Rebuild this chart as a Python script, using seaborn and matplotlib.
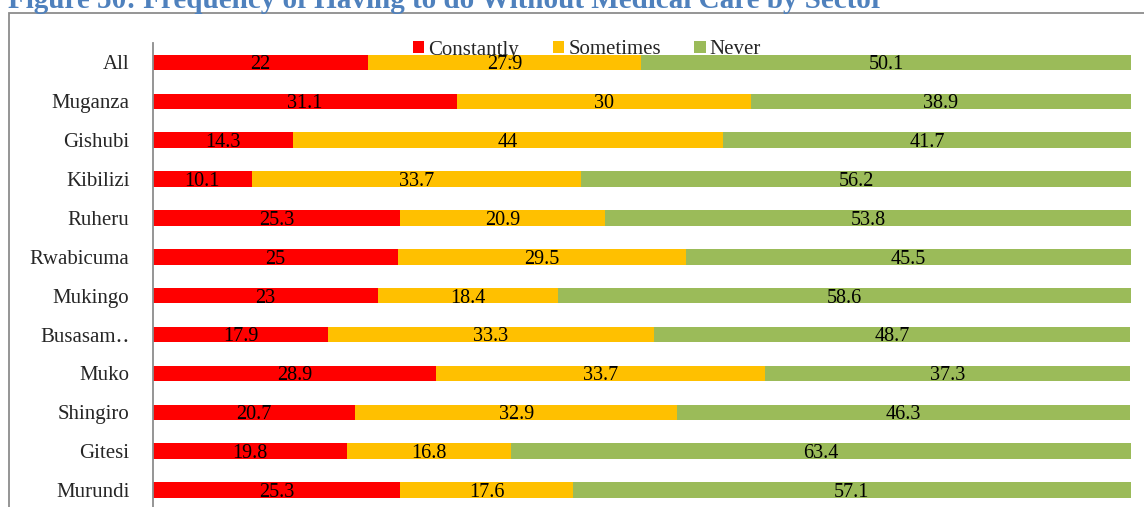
import numpy as np
import pandas as pd
import seaborn as sns
import matplotlib.pyplot as plt
from matplotlib.patches import Rectangle

sectors = ["All", "Muganza", "Gishubi", "Kibilizi", "Ruheru", "Rwabicuma",
           "Mukingo", "Busasam\u2025", "Muko", "Shingiro", "Gitesi", "Murundi"]
constantly = [22, 31.1, 14.3, 10.1, 25.3, 25, 23, 17.9, 28.9, 20.7, 19.8, 25.3]
sometimes = [27.9, 30, 44, 33.7, 20.9, 29.5, 18.4, 33.3, 33.7, 32.9, 16.8, 17.6]
never = [50.1, 38.9, 41.7, 56.2, 53.8, 45.5, 58.6, 48.7, 37.3, 46.3, 63.4, 57.1]

series = ["Constantly", "Sometimes", "Never"]
colors = ["#FF0000", "#FFC000", "#9BBB59"]

df = pd.DataFrame({"Sector": sectors, "Constantly": constantly,
                   "Sometimes": sometimes, "Never": never})
df["c1"] = df["Constantly"]
df["c2"] = df["Constantly"] + df["Sometimes"]
df["c3"] = df["c2"] + df["Never"]

sns.set_style("white")
plt.rcParams["font.family"] = ["Liberation Serif", "DejaVu Serif"]

fig = plt.figure(figsize=(11.44, 5.07), dpi=100)
# outer chart frame (cut off at right and bottom like the source)
fig.patches.append(Rectangle((9 / 1144, -0.1), 1.2, 1 - 13 / 507 + 0.1,
                             transform=fig.transFigure, fill=False,
                             edgecolor="#8C8C8C", linewidth=1.3))
fig.text(8 / 1144, 1 - 8 / 507, "Figure 50: Frequency of Having to do Without Medical Care by Sector",
         color="#4F81BD", fontsize=21, fontweight="bold", va="baseline", ha="left")

ax = fig.add_axes([153 / 1144, -2.5 / 507, (1131 - 153) / 1144, (507 - 43 + 2.5) / 507])

# stacked by overlaying cumulative totals
for col, color, name in zip(["c3", "c2", "c1"], colors[::-1], series[::-1]):
    sns.barplot(data=df, y="Sector", x=col, color=color, orient="h",
                width=0.4, saturation=1, ax=ax, label=name, edgecolor="none")

for i in range(len(sectors)):
    left = 0
    for vals in (constantly, sometimes, never):
        v = vals[i]
        ax.text(left + v / 2, i + 0.06, f"{v:g}", ha="center", va="center",
                fontsize=14.5, color="black")
        left += v

ax.set_xlim(0, 100)
ax.set_ylim(len(sectors) - 0.5, -0.5)
ax.set_xlabel("")
ax.set_ylabel("")
ax.set_xticks([])
ax.tick_params(axis="y", length=0, labelsize=15, pad=17)
for s in ["top", "right", "bottom"]:
    ax.spines[s].set_visible(False)
ax.spines["left"].set_color("#8C8C8C")
ax.spines["left"].set_linewidth(1.3)

handles, labels = ax.get_legend_handles_labels()
order = [labels.index(n) for n in series]
ax.legend([handles[k] for k in order], series, loc="center",
          bbox_to_anchor=((587 - 153) / (1131 - 153), 1 - (50 - 43) / (507 - 43 + 2.5)),
          ncol=3, frameon=False, fontsize=15, handlelength=0.55, handleheight=0.55,
          handletextpad=0.2, columnspacing=1.6, borderpad=0)

fig.savefig("out.png", dpi=100)
